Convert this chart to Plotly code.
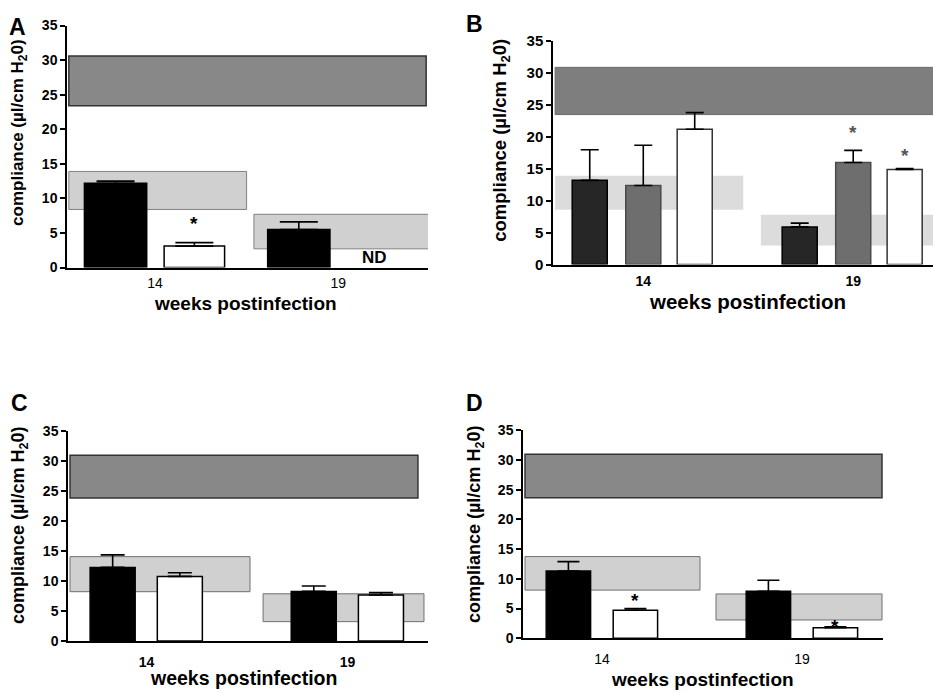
import plotly.graph_objects as go

W, H = 933, 694

# ---------------- data ----------------
weeks = ["14", "19"]

# Panel A
a_black = [12.2, 5.5]
a_black_err = [0.3, 1.1]
a_white = [3.1, None]          # 19 weeks: ND
a_white_err = [0.5, None]
a_normal = [23.4, 30.6]
a_ref14 = [8.4, 13.9]
a_ref19 = [2.7, 7.7]

# Panel B
b_black = [13.2, 5.9]
b_black_err = [4.8, 0.6]
b_gray = [12.4, 16.0]
b_gray_err = [6.3, 1.9]
b_white = [21.2, 14.9]
b_white_err = [2.6, 0.15]
b_normal = [23.5, 30.9]
b_ref14 = [8.6, 13.9]
b_ref19 = [3.0, 7.8]

# Panel C
c_black = [12.3, 8.3]
c_black_err = [2.1, 0.9]
c_white = [10.8, 7.7]
c_white_err = [0.6, 0.4]
c_normal = [23.9, 31.0]
c_ref14 = [8.25, 14.1]
c_ref19 = [3.25, 7.9]

# Panel D
d_black = [11.3, 7.9]
d_black_err = [1.6, 1.85]
d_white = [4.7, 1.75]
d_white_err = [0.3, 0.15]
d_normal = [23.65, 31.0]
d_ref14 = [8.1, 13.75]
d_ref19 = [3.07, 7.45]

y_ticks = [0, 5, 10, 15, 20, 25, 30, 35]

FONT = "Liberation Sans, Arial, sans-serif"


def px_x(p):
    return p / W


def px_y(p):
    return 1 - p / H


fig = go.Figure()

panels = {
    # name: (axis suffix, x px domain, y px domain (top,bottom), x range)
    "A": ("", (67, 428), (17, 265), (-0.48, 1.49)),
    "B": ("2", (553, 933), (33, 262), (-0.43, 1.38)),
    "C": ("3", (68, 428), (433, 648), (-0.39, 1.40)),
    "D": ("4", (523, 883), (432, 645), (-0.395, 1.405)),
}

pos = [0, 1]


def add_bar(ax, offset, width, vals, errs, fill, line_col="black", cap=10):
    xs = []
    ys = []
    es = []
    for p, v, e in zip(pos, vals, errs):
        if v is None:
            continue
        xs.append(p + offset)
        ys.append(v)
        es.append(e)
    suffix = panels[ax][0]
    fig.add_trace(go.Bar(
        x=xs, y=ys, width=width,
        marker=dict(color=fill, line=dict(color=line_col, width=1.5)),
        error_y=dict(type="data", symmetric=False, array=es,
                     arrayminus=[0] * len(es), color="black",
                     thickness=1.6, width=cap),
        xaxis="x" + suffix, yaxis="y" + suffix, showlegend=False,
        hoverinfo="skip",
    ))


def add_band(ax, x0, x1, yr, fill, line_col, lw):
    suffix = panels[ax][0]
    fig.add_shape(type="rect", xref="x" + suffix, yref="y" + suffix,
                  x0=x0, x1=x1, y0=yr[0], y1=yr[1], layer="below",
                  fillcolor=fill, line=dict(color=line_col, width=lw))


DARK = "#888888"
LIGHT = "#d0d0d0"

# ---- Panel A ----
add_band("A", -0.47, 1.48, a_normal, DARK, "#333333", 1.5)
add_band("A", -0.47, 0.50, a_ref14, LIGHT, "#808080", 1)
add_band("A", 0.54, 1.51, a_ref19, LIGHT, "#808080", 1)
add_bar("A", -0.215, 0.34, a_black, a_black_err, "black", cap=19)
add_bar("A", 0.215, 0.33, a_white, a_white_err, "white", cap=19)

# ---- Panel B ----
add_band("B", -0.42, 1.40, b_normal, "#7e7e7e", "#6a6a6a", 1)
add_band("B", -0.42, 0.476, b_ref14, "#dcdcdc", "#dcdcdc", 0)
add_band("B", 0.56, 1.40, b_ref19, "#dcdcdc", "#dcdcdc", 0)
add_bar("B", -0.255, 0.167, b_black, b_black_err, "#262626", cap=9)
add_bar("B", 0.0, 0.167, b_gray, b_gray_err, "#6e6e6e", line_col="#4a4a4a", cap=9)
add_bar("B", 0.245, 0.167, b_white, b_white_err, "white", line_col="#333333", cap=9)

# ---- Panel C ----
add_band("C", -0.38, 1.35, c_normal, DARK, "#333333", 1.5)
add_band("C", -0.38, 0.515, c_ref14, LIGHT, "#707070", 1)
add_band("C", 0.58, 1.38, c_ref19, LIGHT, "#707070", 1)
add_bar("C", -0.168, 0.224, c_black, c_black_err, "black", cap=12)
add_bar("C", 0.166, 0.224, c_white, c_white_err, "white", cap=12)

# ---- Panel D ----
add_band("D", -0.385, 1.40, d_normal, DARK, "#333333", 1.5)
add_band("D", -0.385, 0.49, d_ref14, LIGHT, "#707070", 1)
add_band("D", 0.57, 1.40, d_ref19, LIGHT, "#707070", 1)
add_bar("D", -0.168, 0.222, d_black, d_black_err, "black", cap=11)
add_bar("D", 0.167, 0.222, d_white, d_white_err, "white", cap=11)

# ---------------- axes ----------------
layout_axes = {}
tick_bold = {"A": False, "B": True, "C": True, "D": False}
x_ticklen = {"A": 2, "B": 3, "C": 7, "D": 7}
for name, (suf, xd, yd, xr) in panels.items():
    xa = dict(
        domain=[px_x(xd[0]), min(1.0, px_x(xd[1]))],
        range=list(xr), anchor="y" + suf,
        tickvals=pos,
        ticktext=[("<b>%s</b>" % w) if tick_bold[name] else w for w in weeks],
        showline=True, linecolor="black", linewidth=1.5,
        ticks="outside", ticklen=x_ticklen[name], tickcolor="rgba(0,0,0,0)",
        showgrid=False, zeroline=False,
        tickfont=dict(family=FONT, size=14, color="black"),
    )
    ya = dict(
        domain=[px_y(yd[1]), px_y(yd[0])],
        range=[0, 35], anchor="x" + suf,
        tickvals=y_ticks,
        ticktext=["<b>%d</b>" % t for t in y_ticks],
        showline=True, linecolor="black", linewidth=1.5,
        ticks="outside", ticklen=5, tickwidth=1.5, tickcolor="black",
        showgrid=False, zeroline=False,
        tickfont=dict(family=FONT, size=14 if name != "B" else 15, color="black"),
    )
    layout_axes["xaxis" + suf] = xa
    layout_axes["yaxis" + suf] = ya

fig.update_layout(**layout_axes)

annots = []
# panel letters
for txt, x, y in [("A", 17, 18), ("B", 474, 15), ("C", 19, 404), ("D", 474, 404)]:
    annots.append(dict(text="<b>%s</b>" % txt, x=px_x(x), y=px_y(y), xref="paper", yref="paper",
                       showarrow=False, font=dict(family=FONT, size=23, color="black"),
                       xanchor="center", yanchor="middle"))

# x axis titles
for x, y, sz in [(246, 302, 19), (747, 300, 20.5), (243, 686, 19.5), (702, 687, 19)]:
    annots.append(dict(text="<b>weeks postinfection</b>", x=px_x(x), y=px_y(y),
                       xref="paper", yref="paper", showarrow=False,
                       font=dict(family=FONT, size=sz, color="black"),
                       xanchor="center", yanchor="middle"))

# y axis titles
ytitle = "<b>compliance (µl/cm H<sub>2</sub>0)</b>"
for x, y, sz in [(19, 127, 17), (501, 134, 18.5), (19, 530, 18), (475, 529, 18)]:
    annots.append(dict(text=ytitle, x=px_x(x), y=px_y(y), xref="paper", yref="paper",
                       showarrow=False, textangle=-90,
                       font=dict(family=FONT, size=sz, color="black"),
                       xanchor="center", yanchor="middle"))


# significance stars and ND
def star(ax, x, y, color="black", size=19):
    suf = panels[ax][0]
    annots.append(dict(text="<b>*</b>", x=x, y=y, xref="x" + suf, yref="y" + suf,
                       showarrow=False, font=dict(family=FONT, size=size, color=color),
                       xanchor="center", yanchor="middle", yshift=-3))


star("A", 0.215, a_white[0] + a_white_err[0] + 3.2)
star("B", 1.0, b_gray[1] + b_gray_err[1] + 3.3, color="#555555")
star("B", 1.245, b_white[1] + b_white_err[1] + 2.55, color="#555555")
star("D", 0.167, d_white[0] + d_white_err[0] + 1.9)
star("D", 1.167, d_white[1] + d_white_err[1] + 0.56)

annots.append(dict(text="<b>ND</b>", x=1.2, y=1.5, xref="x", yref="y", showarrow=False,
                   font=dict(family=FONT, size=17, color="black"),
                   xanchor="center", yanchor="middle"))

fig.update_layout(
    annotations=annots,
    width=W, height=H,
    margin=dict(l=0, r=0, t=0, b=0),
    paper_bgcolor="white", plot_bgcolor="white",
    barmode="overlay", showlegend=False,
    font=dict(family=FONT, color="black"),
)

fig.write_html("out.html", config={"displayModeBar": False},
               post_script="document.body.style.margin='0';document.body.style.overflow='hidden';")
